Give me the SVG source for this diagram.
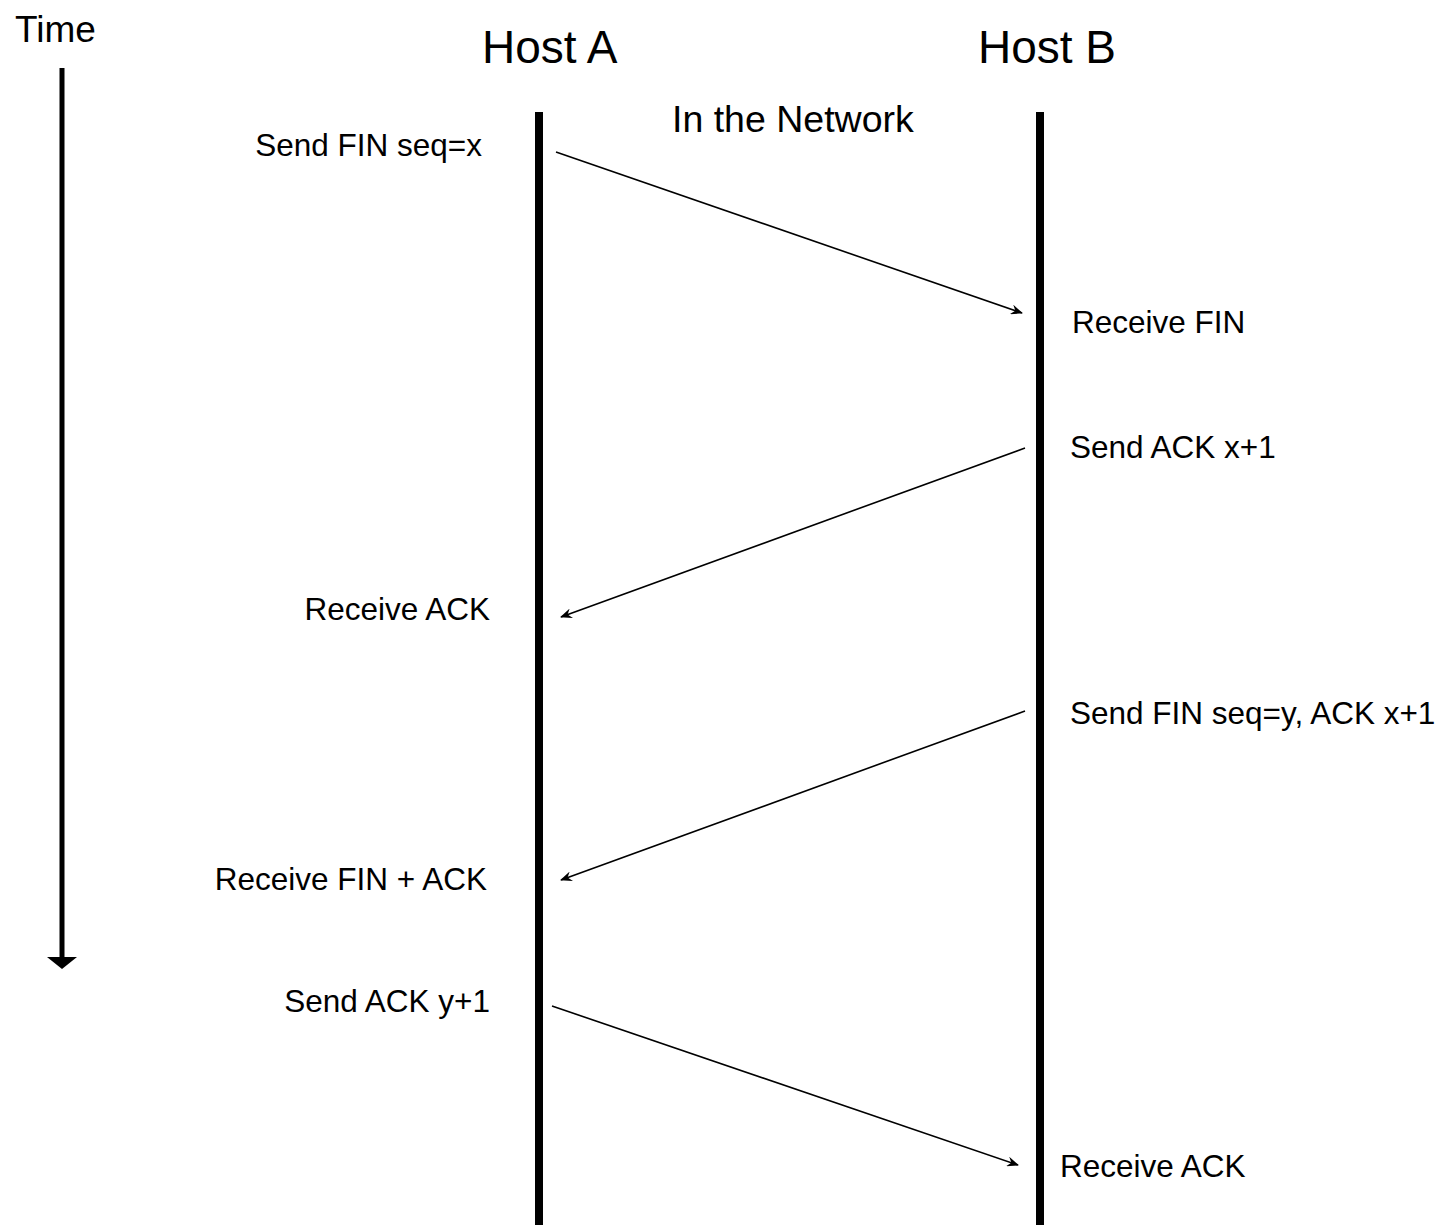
<svg xmlns="http://www.w3.org/2000/svg" width="1443" height="1225" viewBox="0 0 1443 1225">
<style>
text{font-family:"Liberation Sans",Arial,sans-serif;fill:#000}
.lbl{font-size:31.5px}
.l{text-anchor:end}
.host{font-size:46px}
.msg{stroke:#000;stroke-width:1.6;fill:none;marker-end:url(#ah)}
.life{stroke:#000;stroke-width:8}
</style>
<defs>
<marker id="ah" viewBox="0 0 12 10" refX="11" refY="5" markerWidth="12" markerHeight="10" markerUnits="userSpaceOnUse" orient="auto">
<path d="M0,0 L12,5 L0,10 L4,5 Z" fill="#000"/>
</marker>
</defs>
<rect width="1443" height="1225" fill="#fff"/>
<g id="time-axis">
<text x="15" y="42" style="font-size:37px">Time</text>
<line x1="62" y1="68" x2="62" y2="958" stroke="#000" stroke-width="5"/>
<path d="M47,957 L77,957 L62,969 Z" fill="#000"/>
</g>
<g id="host-a">
<text class="host" x="482" y="63">Host A</text>
<line class="life" x1="539" y1="112" x2="539" y2="1225"/>
</g>
<g id="host-b">
<text class="host" x="978" y="63">Host B</text>
<line class="life" x1="1040" y1="112" x2="1040" y2="1225"/>
</g>
<g id="network">
<text x="672" y="132" style="font-size:37.5px">In the Network</text>
</g>
<g id="labels">
<text class="lbl l" x="482" y="156">Send FIN seq=x</text>
<text class="lbl" x="1072" y="333">Receive FIN</text>
<text class="lbl" x="1070" y="458">Send ACK x+1</text>
<text class="lbl l" x="490" y="620">Receive ACK</text>
<text class="lbl" x="1070" y="724">Send FIN seq=y, ACK x+1</text>
<text class="lbl l" x="487" y="890">Receive FIN + ACK</text>
<text class="lbl l" x="490" y="1012">Send ACK y+1</text>
<text class="lbl" x="1060" y="1177">Receive ACK</text>
</g>
<g id="connectors">
<line class="msg" x1="556" y1="152" x2="1022" y2="313"/>
<line class="msg" x1="1025" y1="448" x2="561" y2="617"/>
<line class="msg" x1="1025" y1="711" x2="561" y2="880"/>
<line class="msg" x1="552" y1="1006" x2="1018" y2="1165"/>
</g>
</svg>
